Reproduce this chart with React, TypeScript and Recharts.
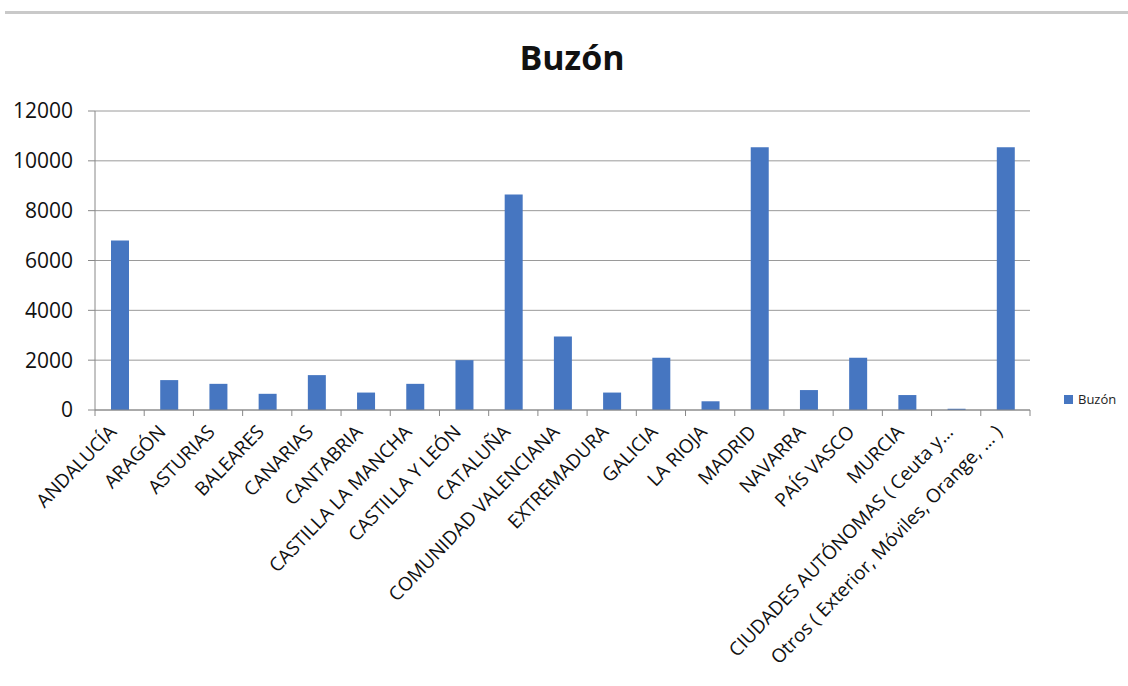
import { BarChart, Bar, XAxis, YAxis, CartesianGrid } from "recharts";

const categories = [
  "ANDALUCÍA",
  "ARAGÓN",
  "ASTURIAS",
  "BALEARES",
  "CANARIAS",
  "CANTABRIA",
  "CASTILLA LA MANCHA",
  "CASTILLA Y LEÓN",
  "CATALUÑA",
  "COMUNIDAD VALENCIANA",
  "EXTREMADURA",
  "GALICIA",
  "LA RIOJA",
  "MADRID",
  "NAVARRA",
  "PAÍS VASCO",
  "MURCIA",
  "CIUDADES AUTÓNOMAS ( Ceuta y…",
  "Otros ( Exterior, Móviles, Orange, … )",
];

const buzon = [
  6800, 1200, 1050, 650, 1400, 700, 1050, 2000, 8650, 2950, 700, 2100, 350,
  10550, 800, 2100, 600, 50, 10550,
];

const yTicks = [0, 2000, 4000, 6000, 8000, 10000, 12000];

const data = categories.map((name, i) => ({ name, buzon: buzon[i] }));

const W = 1128;
const H = 686;
const MARGIN = { top: 111, right: 98, bottom: 0, left: 0 };
const Y_AXIS_W = 95;
const X_AXIS_H = 276;
const BAND = (W - MARGIN.left - MARGIN.right - Y_AXIS_W) / categories.length;
const FONT = "'Open Sans', 'DejaVu Sans', sans-serif";
const BLUE = "#4676c1";

// Excel-style tick: boundary marks between categories plus a rotated label.
function CategoryTick(props: any) {
  const { x, y, payload, index } = props;
  const axisY = y - 8;
  return (
    <g>
      <line x1={x - BAND / 2} x2={x - BAND / 2} y1={axisY} y2={axisY + 6} stroke="#888" />
      {index === categories.length - 1 && (
        <line x1={x + BAND / 2} x2={x + BAND / 2} y1={axisY} y2={axisY + 6} stroke="#888" />
      )}
      <text
        transform={`translate(${x - 2},${y + 15}) rotate(-46)`}
        textAnchor="end"
        fontSize={19}
        fontFamily={FONT}
        fill="#111"
      >
        {payload.value}
      </text>
    </g>
  );
}

export default function App() {
  return (
    <div style={{ position: "absolute", left: 0, top: 0, width: W, height: H, background: "#fff", fontFamily: FONT, overflow: "hidden" }}>
      <div style={{ position: "absolute", left: 5, top: 11, width: W - 5, height: 3, background: "#c9c9c9" }} />
      <div
        style={{
          position: "absolute",
          left: 0,
          width: W,
          top: 34,
          textAlign: "center",
          fontSize: 34,
          fontWeight: 700,
          color: "#111",
          paddingLeft: 8,
        }}
      >
        Buzón
      </div>
      <BarChart width={W} height={H} data={data} margin={MARGIN} barSize={18}>
        <CartesianGrid vertical={false} stroke="#9a9a9a" />
        <XAxis
          dataKey="name"
          interval={0}
          height={X_AXIS_H}
          tickLine={false}
          tickSize={6}
          stroke="#888"
          tick={<CategoryTick />}
        />
        <YAxis
          width={Y_AXIS_W}
          domain={[0, 12000]}
          ticks={yTicks}
          tickSize={7}
          tickMargin={15}
          stroke="#888"
          tick={{ fill: "#111", fontSize: 21, fontFamily: FONT }}
        />
        <Bar dataKey="buzon" name="Buzón" fill={BLUE} isAnimationActive={false} />
      </BarChart>
      <div style={{ position: "absolute", left: 1064, top: 390, display: "flex", alignItems: "center", fontSize: 13, color: "#222" }}>
        <div style={{ width: 9, height: 9, background: BLUE, marginRight: 5 }} />
        Buzón
      </div>
    </div>
  );
}
